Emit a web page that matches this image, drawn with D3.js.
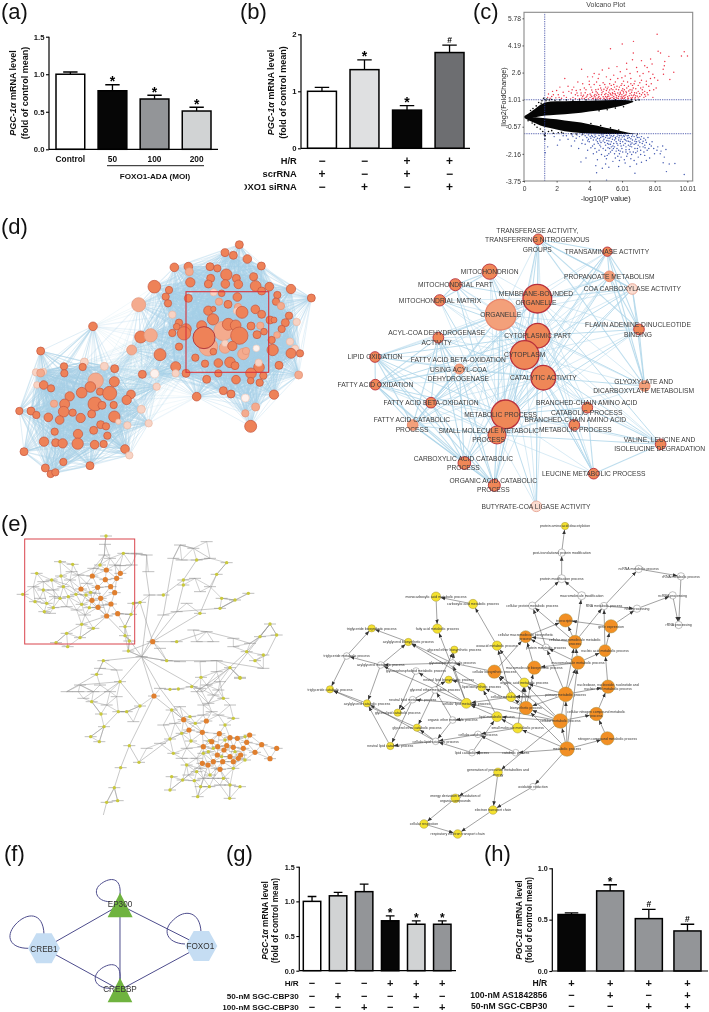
<!DOCTYPE html>
<html><head><meta charset="utf-8">
<script src="https://cdnjs.cloudflare.com/ajax/libs/d3/7.8.5/d3.min.js"></script>
<style>
html,body{margin:0;padding:0;background:#fff}
svg{position:absolute;left:0;top:0;display:block;filter:blur(0.3px)}
text{font-family:"Liberation Sans",Arial,sans-serif}
</style></head><body>
<svg id="fig" width="709" height="1012" viewBox="0 0 709 1012"></svg>
<script>
// ---------- Bar panels ----------
const aCats=["Control","50","100","200"];
const aVals=[1.0,0.78,0.67,0.51];
const aErrs=[0.03,0.08,0.05,0.05];
const aMarks=["","*","*","*"];
const aTicks=[0,0.5,1,1.5];
const aColors=["#ffffff","#060606","#939598","#d1d3d4"];

const bCats=["b1","b2","b3","b4"];
const bVals=[1.0,1.38,0.67,1.68];
const bErrs=[0.07,0.17,0.08,0.13];
const bMarks=["","*","*","#"];
const bTicks=[0,1,2];
const bColors=["#ffffff","#dfe0e1","#060606","#6d6e71"];
const bRows=["H/R","scrRNA","FOXO1 siRNA"];
const bSigns=[["−","−","+","+"],["+","−","+","−"],["−","+","−","+"]];

const gCats=["g1","g2","g3","g4","g5","g6"];
const gVals=[1.0,1.08,1.14,0.72,0.67,0.67];
const gErrs=[0.07,0.05,0.11,0.07,0.05,0.05];
const gMarks=["","","","*","*","*"];
const gTicks=[0,0.5,1,1.5];
const gColors=["#ffffff","#d1d3d4","#939598","#060606","#d1d3d4","#939598"];
const gRows=["H/R","50-nM SGC-CBP30","100-nM SGC-CBP30"];
const gSigns=[["−","−","−","+","+","+"],["−","+","−","−","+","−"],["−","−","+","−","−","+"]];

const hCats=["h1","h2","h3","h4"];
const hVals=[0.55,0.78,0.51,0.39];
const hErrs=[0.015,0.06,0.09,0.065];
const hMarks=["","*","#","#"];
const hTicks=[0,0.5,1];
const hColors=["#060606","#939598","#939598","#939598"];
const hRows=["H/R","100-nM AS1842856","50-nM SGC-CBP30"];
const hSigns=[["+","+","+","+"],["−","+","−","+"],["−","−","+","+"]];

// ---------- Volcano ----------
const cXTicks=[0,2,4,6.01,8.01,10.01];
const cYTicks=[-3.75,-2.16,-0.57,1.01,2.6,4.19,5.78];
const wingX   =[0,0.3,0.7,1,1.3,1.6,2,2.5,3,3.5,4,4.5,5,5.5,6,6.4,6.7];
const upTop   =[0.05,0.22,0.5,0.72,0.85,0.9,0.92,0.92,0.93,0.94,0.95,0.97,0.98,1.0,1.0,0.98,0.92];
const upBot   =[-0.05,-0.1,-0.02,0.04,0.08,0.1,0.13,0.16,0.2,0.25,0.32,0.38,0.46,0.55,0.66,0.78,0.88];
const lowX    =[0,0.3,0.7,1,1.3,1.6,2,2.5,3,3.5,4,4.5,5,5.5,6,6.4,6.8];
const lowTop  =[-0.05,-0.05,-0.02,-0.05,-0.08,-0.1,-0.14,-0.2,-0.27,-0.33,-0.42,-0.52,-0.63,-0.72,-0.83,-0.92,-0.98];
const lowBot  =[-0.05,-0.2,-0.36,-0.5,-0.58,-0.65,-0.74,-0.84,-0.9,-0.94,-0.97,-0.98,-1.0,-1.0,-1.0,-1.0,-1.0];
const blackFringe=[[0.9,0.85],[1.1,0.95],[1.2,1.1],[1.28,1.02],[1.4,1.05],[1.55,1.0],[1.7,1.02],[1.9,0.98],[2.2,1.0],[2.6,1.0],[3,0.98],[3.4,1.0],[3.8,1.0],[4.4,1.0],[5,1.0],[5.6,1.0],[6.2,0.98],[6.6,1.0],[0.8,-0.6],[1.0,-0.7],[1.15,-0.85],[1.3,-0.95],[1.25,-1.05],[1.5,-0.85],[1.8,-0.95],[2.1,-0.92],[2.4,-0.95],[2.9,-0.98],[3.2,-1.0],[3.6,-1.0],[0.55,0.5],[0.75,0.65],[0.5,-0.35],[0.65,-0.45],[1.3,-1.1],[1.28,-1.3],[1.05,0.8],[1.35,0.95],[0.4,0.38],[0.25,-0.22],[6.85,0.98],[6.95,-1.0],[7.05,1.0],[1.7,-0.8],[2.3,-0.9],[6.1,0.6],[5.6,0.52],[5.1,0.42],[4.6,0.36],[4.1,-0.38],[4.7,-0.5],[5.3,-0.64],[5.8,-0.76]];
const redPts=[[8.16,4.85],[6.71,4.43],[6.02,4.28],[5.3,4.0],[6.7,3.75],[8.22,3.85],[8.37,3.75],[9.82,3.82],[10.02,3.57],[9.65,3.57],[8.88,3.55],[8.63,3.25],[3.53,2.8],[2.5,2.25],[7.76,3.4],[7.2,3.3],[6.65,3.35],[6.29,3.15],[9.18,2.62],[8.94,2.2],[8.53,2.8],[8.6,3.0],[7.85,3.1],[7.4,3.0],[6.9,2.9],[6.3,2.8],[5.9,2.65],[5.7,2.95],[5.2,2.85],[4.8,2.75],[4.3,2.55],[4.2,2.35],[4.6,2.5],[5.05,2.35],[5.5,2.45],[6.0,2.3],[6.5,2.55],[7.1,2.4],[7.65,2.65],[7.9,2.5],[8.2,2.15],[8.0,2.3],[7.5,2.1],[7.2,2.15],[6.8,2.1],[6.35,2.05],[6.0,1.95],[5.6,2.05],[5.25,1.95],[4.85,2.0],[4.45,2.05],[4.0,2.1],[3.6,1.95],[3.3,2.05],[3.05,1.75],[2.7,1.8],[2.2,1.75],[2.0,1.55],[1.75,1.5],[1.5,1.35],[1.7,1.2],[2.1,1.3],[2.4,1.45],[2.9,1.4],[3.2,1.55],[3.5,1.4],[3.8,1.6],[4.1,1.75],[4.4,1.6],[4.7,1.7],[5.0,1.75],[5.35,1.65],[5.7,1.8],[6.05,1.65],[6.4,1.8],[6.7,1.7],[7.0,1.85],[7.3,1.75],[7.65,1.8],[7.8,1.95],[8.1,1.7],[7.4,1.5],[7.0,1.5],[6.6,1.45],[6.25,1.5],[5.9,1.45],[5.55,1.5],[5.2,1.45],[4.85,1.5],[4.5,1.4],[4.2,1.45],[3.9,1.3],[3.6,1.2],[3.3,1.25],[3.0,1.15],[2.6,1.15],[2.3,1.1],[1.95,1.12],[1.6,1.1],[4.05,1.15],[4.3,1.25],[4.55,1.15],[4.75,1.3],[5.0,1.2],[5.15,1.3],[5.4,1.15],[5.6,1.3],[5.8,1.2],[6.0,1.3],[6.2,1.15],[6.45,1.25],[6.65,1.15],[6.85,1.25],[7.1,1.2],[7.35,1.15],[7.6,1.3],[7.9,1.15],[4.2,1.07],[4.4,1.1],[4.65,1.07],[4.9,1.1],[5.1,1.06],[5.3,1.1],[5.5,1.07],[5.7,1.1],[5.95,1.07],[6.15,1.1],[6.35,1.06],[6.6,1.08],[6.8,1.06],[3.4,1.07],[3.7,1.08],[3.95,1.06],[3.15,1.07],[2.85,1.06],[5.45,1.38],[5.05,1.55],[4.65,1.85],[5.8,1.6],[6.15,1.85],[6.55,2.25],[7.3,2.55],[6.1,2.1],[5.3,2.2],[3.9,2.35],[4.0,1.9],[7.75,2.25],[8.55,2.5],[6.75,1.95],[5.55,1.75],[4.95,1.9],[4.3,1.9],[6.95,2.65],[7.55,2.9],
 [3.55,1.1],[3.8,1.15],[4.1,1.28],[4.25,1.1],[4.45,1.28],[4.6,1.2],[4.7,1.1],[4.85,1.18],[4.95,1.32],[5.05,1.12],[5.2,1.22],[5.28,1.38],[5.4,1.28],[5.5,1.2],[5.65,1.15],[5.75,1.4],[5.85,1.3],[5.95,1.18],[6.1,1.4],[6.1,1.22],[6.25,1.3],[6.35,1.18],[6.5,1.38],[6.55,1.12],[6.75,1.3],[6.9,1.4],[7.0,1.12],[7.2,1.3],[7.45,1.22],[7.25,1.6],[6.85,1.65],[6.5,1.6],[6.15,1.6],[5.85,1.75],[5.45,1.6],[5.1,1.65],[4.75,1.58],[4.35,1.32],[4.15,1.58],[3.75,1.42],[3.45,1.6],[3.15,1.3],[2.75,1.5],[2.45,1.25],[2.15,1.15],[1.8,1.3],[1.45,1.15],[6.55,1.95],[7.15,1.7],[7.5,1.9],[6.2,2.4],[5.75,2.25],[4.55,2.25],[3.7,1.7],[2.95,1.6],[5.35,1.85],[4.15,1.2],[5.25,1.08],[6.05,1.08],[6.7,1.25],[7.7,1.55],[7.95,1.6],[3.25,1.4],[3.65,1.28],
 [4.35,1.18],[4.52,1.05],[4.58,1.32],[4.78,1.42],[4.92,1.05],[5.02,1.38],[5.12,1.18],[5.22,1.05],[5.32,1.3],[5.42,1.42],[5.52,1.1],[5.58,1.38],[5.68,1.24],[5.78,1.08],[5.9,1.36],[6.02,1.16],[6.08,1.5],[6.18,1.26],[6.28,1.42],[6.4,1.1],[6.42,1.52],[6.58,1.28],[6.62,1.58],[6.78,1.42],[6.82,1.14],[6.95,1.22],[7.08,1.38],[7.28,1.42],[7.4,1.32],[7.55,1.42],[6.3,1.7],[6.0,1.55],[5.65,1.62],[5.25,1.58],[4.9,1.62],[4.55,1.62],[4.05,1.35],[4.42,1.48],[3.85,1.22],[3.5,1.28],[5.95,1.85],[6.65,1.85],[7.1,2.0],[5.15,1.75],[5.5,1.9]];
const bluePts=[[4.45,-3.27],[5.06,-3.7],[9.82,-3.37],[8.73,-3.2],[6.8,-3.3],[3.49,-2.63],[9.25,-2.72],[8.53,-2.68],[8.9,-2.75],[8.6,-2.35],[8.35,-2.15],[8.15,-1.95],[8.5,-1.7],[8.2,-1.75],[8.0,-2.15],[7.7,-2.4],[7.4,-2.25],[7.2,-2.65],[6.9,-2.75],[6.5,-2.9],[6.2,-2.7],[5.8,-2.9],[5.2,-2.95],[5.0,-2.75],[4.8,-3.0],[4.4,-2.85],[3.8,-2.4],[2.05,-1.65],[2.9,-1.7],[2.2,-1.35],[1.45,-1.75],[1.3,-2.1],[1.85,-1.15],[2.4,-1.1],[2.7,-1.3],[3.1,-1.4],[3.4,-1.15],[3.0,-1.15],[3.6,-1.35],[3.85,-1.2],[3.75,-1.6],[4.0,-1.45],[4.2,-1.15],[4.1,-1.8],[4.3,-1.6],[4.5,-1.25],[4.45,-2.05],[4.65,-1.4],[4.7,-1.75],[4.8,-1.15],[4.95,-1.5],[5.0,-1.95],[5.15,-1.25],[5.1,-2.25],[5.3,-1.6],[5.35,-1.1],[5.4,-1.95],[5.55,-1.35],[5.6,-2.4],[5.7,-1.15],[5.75,-1.65],[5.85,-2.15],[5.95,-1.3],[6.0,-1.85],[6.1,-1.1],[6.2,-1.55],[6.3,-2.3],[6.35,-1.25],[6.45,-1.9],[6.5,-1.45],[6.6,-1.15],[6.7,-2.05],[6.75,-1.6],[6.85,-1.3],[6.95,-1.85],[7.0,-2.35],[7.1,-1.5],[7.2,-1.15],[7.3,-1.75],[7.45,-1.35],[7.55,-1.95],[7.7,-1.6],[7.85,-1.45],[3.95,-1.05],[4.15,-1.08],[4.35,-1.05],[4.6,-1.08],[4.85,-1.05],[5.05,-1.08],[5.25,-1.05],[5.5,-1.08],[5.75,-1.05],[5.95,-1.08],[6.2,-1.05],[6.4,-1.08],[6.65,-1.05],[6.9,-1.1],[7.05,-1.2],[3.25,-1.05],[3.55,-1.05],[4.55,-1.55],[4.9,-1.3],[5.2,-1.4],[5.45,-1.7],[5.65,-1.45],[5.9,-1.55],[6.15,-1.3],[6.4,-1.65],[6.6,-1.75],[6.85,-1.55],[7.15,-1.95],[7.4,-1.65],[7.6,-1.2],[5.3,-2.05],[5.55,-2.15],[5.95,-2.35],[6.25,-2.05],[6.55,-2.45],[6.85,-2.1],[7.15,-2.2],[7.5,-2.55],[4.75,-2.2],[4.25,-2.15],[3.9,-1.95],[3.35,-1.85],[5.85,-2.55],[6.75,-2.55],[5.45,-2.6],[7.95,-1.85],[8.4,-2.0],[8.7,-1.9],[4.5,-2.5],[5.05,-2.45],
 [3.75,-1.1],[3.95,-1.3],[4.05,-1.15],[4.25,-1.35],[4.4,-1.15],[4.5,-1.45],[4.7,-1.2],[4.75,-1.05],[4.85,-1.4],[5.0,-1.2],[5.0,-1.65],[5.1,-1.1],[5.2,-1.6],[5.25,-1.25],[5.35,-1.45],[5.45,-1.15],[5.5,-1.55],[5.6,-1.2],[5.7,-1.85],[5.8,-1.35],[5.85,-1.1],[5.95,-1.7],[6.05,-1.45],[6.15,-1.15],[6.25,-1.75],[6.3,-1.4],[6.45,-1.2],[6.55,-1.6],[6.65,-1.35],[6.75,-1.15],[6.9,-1.45],[7.0,-1.65],[7.15,-1.3],[7.25,-1.55],[7.35,-1.25],[7.5,-1.5],[7.65,-1.85],[7.8,-1.7],[6.05,-2.05],[5.65,-2.0],[5.25,-1.85],[4.85,-1.85],[4.6,-1.95],[4.2,-1.7],[3.55,-1.55],[3.2,-1.25],[2.95,-1.05],[2.6,-1.1],[6.35,-2.15],[6.6,-2.2],[6.95,-2.0],[7.35,-2.05],[5.75,-2.3],[5.2,-2.15],[4.95,-2.3],[6.15,-2.5],
 [4.1,-1.25],[4.3,-1.2],[4.42,-1.35],[4.62,-1.28],[4.72,-1.5],[4.88,-1.15],[5.08,-1.38],[5.12,-1.55],[5.3,-1.18],[5.42,-1.3],[5.48,-1.85],[5.62,-1.28],[5.7,-1.55],[5.82,-1.22],[5.9,-1.42],[6.02,-1.18],[6.1,-1.65],[6.22,-1.35],[6.32,-1.1],[6.4,-1.42],[6.55,-1.28],[6.62,-1.52],[6.8,-1.42],[6.95,-1.2],[7.05,-1.4],[7.3,-1.42],[7.42,-1.8],[5.55,-1.75],[5.8,-1.95],[5.35,-1.75],[4.65,-1.65],[4.35,-1.85],[3.9,-1.4],[6.5,-1.72],[6.8,-1.85],[7.1,-1.75],[6.25,-1.92],[5.15,-1.8],[5.9,-2.0],[6.5,-2.05]];

// ---------- Network (d), left: [x, y, radius, tone] in crop units; tone 0=orange 1=peach 2=pale 3=near-white ----------
const dNodesA=[[718,119,12,0],[675,143,12,0],[700,151,12,0],[742,162,13,0],[784,183,12,0],[523,187,13,0],[565,185,13,0],[568,200,12,1],[630,185,12,0],[652,190,11,0],[679,209,17,0],[632,220,12,0],[709,220,12,0],[761,215,12,0],[571,232,14,0],[625,237,12,0],[676,237,13,0],[715,238,13,0],[767,243,16,0],[785,258,12,0],[808,245,13,0],[873,252,14,0],[934,279,12,0],[463,245,19,0],[507,255,11,0],[497,275,11,0],[504,295,11,0],[565,280,12,0],[641,262,11,2],[665,265,10,0],[712,276,13,0],[657,290,11,1],[684,298,12,0],[832,270,11,0],[828,290,11,0],[843,303,11,1],[416,299,21,1],[517,329,11,2],[714,306,11,1],[710,318,10,2],[726,322,18,0],[625,317,14,0],[640,312,8,0],[766,313,13,0],[785,328,12,0],[867,332,11,0],[890,351,11,2],[856,353,12,0],[810,345,12,0],[822,345,9,0],[845,372,11,0],[781,362,11,1],[753,363,12,0],[537,353,11,0],[530,365,10,0],[558,372,16,0],[552,385,20,0],[517,384,11,0],[625,425,28,1],[605,362,15,0],[639,343,17,0],[670,378,29,1],[685,358,18,0],[707,361,16,0],[718,392,26,0],[675,428,17,1],[675,415,10,2],[697,423,14,0],[771,389,12,0],[792,380,10,0],[831,390,10,1],[815,405,11,0],[818,435,17,0],[870,410,11,2],[885,431,11,2],[873,445,15,0],[900,445,11,0],[537,425,11,0],[586,458,11,0],[615,476,11,0],[640,440,10,0],[655,474,13,0],[690,472,16,0],[705,482,12,0],[730,447,17,1],[738,438,11,1],[769,430,10,3],[777,487,16,0],[776,473,11,2],[753,505,16,0],[790,512,11,0],[837,481,12,0],[896,510,12,1],[527,485,15,0],[527,505,11,2],[558,505,12,0],[480,449,18,0],[427,508,12,0],[464,506,13,3],[395,435,15,1],[422,396,18,0],[452,391,20,1],[620,523,12,0],[655,505,11,0],[708,524,13,0],[752,527,10,0],[779,533,11,0],[670,557,12,0],[693,567,12,0],[590,575,13,0],[822,569,14,0],[736,579,12,3],[767,606,12,1],[736,625,11,1],[752,664,18,0],[612,398,33,0]];
const dNodesB=[[279,364,13,0],[122,438,12,0],[253,471,12,2],[313,484,12,2],[248,486,11,0],[192,484,11,0],[193,505,11,0],[344,491,12,0],[108,502,11,2],[130,500,10,2],[122,504,12,1],[111,540,10,2],[287,527,23,1],[343,530,15,0],[131,540,13,0],[153,550,11,0],[470,545,11,2],[271,546,16,0],[245,563,16,0],[300,560,11,0],[329,565,21,0],[393,568,13,0],[380,585,14,0],[209,574,14,0],[194,597,15,0],[162,596,11,1],[285,597,21,0],[306,601,12,0],[341,600,11,0],[58,618,11,0],[93,618,12,0],[109,630,11,0],[191,620,16,0],[218,623,11,0],[275,627,12,0],[343,635,17,0],[424,613,12,2],[145,637,13,0],[179,645,13,0],[242,639,14,0],[355,650,8,2],[382,661,11,2],[446,655,11,2],[302,659,12,0],[318,664,11,0],[281,676,12,0],[164,680,11,0],[234,687,14,0],[322,692,11,0],[132,710,14,0],[167,713,12,0],[188,715,14,0],[233,716,17,0],[284,719,13,0],[311,717,11,0],[72,740,12,0],[375,732,13,0],[388,751,11,2],[190,771,11,0],[270,782,12,0],[136,789,12,0],[152,807,11,0],[166,802,11,0]];

// ---------- Network (d), right ----------
const dTerms=[
 [["TRANSFERASE ACTIVITY,","TRANSFERRING NITROGENOUS","GROUPS"],625,103,16,0,622,77],
 [["TRANSAMINASE ACTIVITY"],832,140,14,0,831,139],
 [["MITOCHONDRION"],479,200,23,0,479,199],
 [["MITOCHONDRIAL PART"],376,239,18,0,376,238],
 [["MITOCHONDRIAL MATRIX"],329,286,17,0,330,286],
 [["PROPANOATE METABOLISM"],838,214,16,1,838,214],
 [["COA CARBOXYLASE ACTIVITY"],907,252,16,2,907,251],
 [["MEMBRANE-BOUNDED","ORGANELLE"],622,281,43,0,618,265],
 [["ORGANELLE"],512,329,46,1,512,328],
 [["CYTOPLASMIC PART"],623,392,37,0,623,392],
 [["FLAVIN ADENINE DINUCLEOTIDE","BINDING"],927,373,16,0,924,360],
 [["ACYL-COA DEHYDROGENASE","ACTIVITY"],325,398,16,0,320,384],
 [["CYTOPLASM"],584,450,43,0,584,449],
 [["LIPID OXIDATION"],135,456,16,0,135,456],
 [["FATTY ACID BETA-OXIDATION","USING ACYL-COA","DEHYDROGENASE"],388,492,15,1,385,465],
 [["CATALYTIC ACTIVITY"],640,518,37,0,640,518],
 [["FATTY ACID OXIDATION"],136,539,16,0,136,539],
 [["GLYOXYLATE AND","DICARBOXYLATE METABOLISM"],944,543,16,1,941,529],
 [["FATTY ACID BETA-OXIDATION"],303,593,16,0,303,593],
 [["BRANCHED-CHAIN AMINO ACID","CATABOLIC PROCESS"],772,608,16,0,770,594],
 [["METABOLIC PROCESS"],527,628,43,0,512,628],
 [["FATTY ACID CATABOLIC","PROCESS"],248,660,16,1,246,645],
 [["BRANCHED-CHAIN AMINO ACID","METABOLIC PROCESS"],733,660,16,0,736,645],
 [["SMALL MOLECULE METABOLIC","PROCESS"],501,690,27,0,476,676],
 [["VALINE, LEUCINE AND","ISOLEUCINE DEGRADATION"],992,718,16,0,989,704],
 [["CARBOXYLIC ACID CATABOLIC","PROCESS"],403,774,19,0,400,760],
 [["LEUCINE METABOLIC PROCESS"],791,806,16,0,791,805],
 [["ORGANIC ACID CATABOLIC","PROCESS"],493,841,18,0,490,826],
 [["BUTYRATE-COA LIGASE ACTIVITY"],619,904,16,2,618,904]
];
const dHubs=[7,8,9,12,15,20,23];
const dCliques=[[13,16,18,21,14,11,25,27],[19,22,24,26],[2,3,4],[0,1,5,6,10,17]];

// ---------- Network (e), left overview (crop units) ----------
const eOrange=[[319,165],[361,175],[277,183],[350,190],[316,194],[293,217],[332,215],[243,222],[344,233],[302,250],[276,256],[333,267],[294,277],[353,296],[320,303],[458,380],[462,543],[551,614],[567,645],[619,618],[607,652],[610,695],[653,695],[672,705],[700,697],[712,670],[690,668],[658,656],[749,660],[740,682],[730,700],[722,720],[715,730],[700,740],[690,725],[668,740],[652,720],[640,740],[624,750],[607,745],[660,763],[680,692],[785,689],[765,712],[830,700],[810,731],[635,680]];
const eYellow=[[318,63],[370,115],[300,150],[180,140],[218,148],[110,175],[155,195],[183,183],[68,238],[130,225],[190,215],[228,238],[258,240],[272,232],[205,245],[245,268],[268,278],[133,290],[105,260],[180,250],[140,265],[160,278],[245,328],[200,355],[168,383],[240,368],[280,340],[203,395],[375,335],[393,298],[400,265],[420,262],[375,362],[388,378],[385,408],[680,143],[650,178],[745,235],[705,255],[665,250],[660,280],[600,295],[590,135],[550,195],[550,210],[490,240],[530,380],[500,437],[810,327],[830,360],[780,365],[765,437],[740,410],[690,458],[720,487],[790,420],[310,437],[290,478],[360,500],[275,560],[303,597],[355,590],[380,590],[420,573],[312,635],[272,665],[298,680],[388,692],[362,758],[343,818],[320,862],[353,857],[417,742],[515,585],[510,523],[535,522],[575,515],[603,487],[720,490],[670,550],[700,610],[675,630],[570,605],[586,625],[545,655],[510,672],[520,715],[573,678],[628,677],[560,750],[515,785],[548,795],[583,797],[510,825],[602,815],[628,815],[593,845],[689,850],[690,810],[720,815],[590,770],[630,780],[700,760],[735,735],[670,790],[610,715],[640,700],[665,725],[705,710],[675,675],[735,665],[625,710]];
const eBlank=[[315,88],[313,120],[410,115],[440,120],[445,170],[360,152],[395,150],[540,90],[580,100],[620,80],[630,130],[520,130],[448,240],[490,300],[530,290],[580,345],[620,350],[700,370],[750,385],[600,440],[650,437],[790,460],[200,530],[240,510],[350,545],[280,530],[480,520],[650,470],[480,685],[440,700],[425,425],[400,620],[490,630],[625,565],[590,530],[640,540],[610,570],[660,500],[565,780],[600,760],[650,760],
 [130,200],[160,225],[210,195],[235,180],[260,205],[120,250],[165,245],[200,275],[230,285],[285,235],[310,270],[255,300],[215,170],[150,295],[100,215],[345,150],[330,130],[280,160],[545,135],[600,230],[585,190],[560,265],[630,215],[600,520],[620,510],[655,525],[635,590],[655,600],[610,600],[690,570],[540,575],[525,625],[560,700],[590,730],[545,730],[640,790],[660,810],[610,790],[300,510],[330,530],[250,550],[320,570],[235,530],[300,460],[350,465],[540,440],[700,395],[640,380],[590,380],[480,400]];
const eSpokes=[[[425,425],[385,370],[320,303],[265,255],[205,210],[155,195]],[[425,425],[458,380],[530,380],[620,350],[700,370],[750,385],[780,365],[810,327],[830,360],[800,420],[765,437]],[[425,425],[448,240],[438,170],[440,120],[370,115]],[[425,425],[490,300],[520,130],[540,90],[580,100],[630,130],[590,135],[550,195],[490,240]],[[458,380],[600,295],[650,178],[680,143]],[[458,380],[530,290],[550,210]],[[530,290],[660,280],[745,235]],[[660,280],[705,255],[665,250]],[[425,425],[360,500],[275,560],[303,597]],[[425,425],[310,437],[290,478],[200,530]],[[360,500],[240,510],[280,530]],[[360,500],[420,573],[380,590],[355,590],[312,635],[272,665]],[[312,635],[298,680]],[[425,425],[462,543],[388,692],[362,758],[343,818],[320,862],[310,900]],[[343,818],[353,857]],[[388,692],[417,742]],[[425,425],[610,530],[740,410],[810,327]],[[425,425],[480,520],[551,614],[607,652]],[[425,425],[500,437],[650,437],[790,460]],[[462,543],[551,614]],[[567,645],[510,672],[416,742]],[[318,63],[315,88],[313,120],[300,150],[277,183]],[[320,303],[245,328],[200,355],[168,383]],[[320,303],[280,340],[240,368]],[[353,296],[393,298],[375,335],[375,362],[388,378],[385,408],[425,425]],[[400,265],[420,262],[458,380]],[[385,408],[458,380]],[[425,425],[500,437],[458,380]],[[590,530],[690,458],[720,487]],[[625,565],[810,327]],[[660,763],[690,810],[689,850]],[[607,745],[548,795],[510,825]],[[624,750],[593,845]]];

// ---------- Network (e), right: [id, label lines, x, y, radius, type] ----------
const eNodes=[
 ["pd",["protein amino acid deacetylation"],795,33,11,"y"],
 ["ptm",["post-translational protein modification"],785,113,11,"w"],
 ["pmp",["protein modification process"],785,191,12,"w"],
 ["mm",["macromolecule modification"],845,242,12,"w"],
 ["cpm",["cellular protein metabolic process"],697,272,11,"w"],
 ["ncm",["ncRNA metabolic process"],1016,162,11,"w"],
 ["rrm",["rRNA metabolic process"],1143,184,11,"w"],
 ["ncp",["ncRNA processing"],1118,241,11,"w"],
 ["rrp",["rRNA processing"],1136,330,11,"w"],
 ["rna",["RNA metabolic process"],912,273,11,"w"],
 ["rnp",["RNA processing"],1011,281,11,"w"],
 ["tr",["transcription"],797,316,20,"o"],
 ["ge",["gene expression"],933,334,20,"o"],
 ["mca",["monocarboxylic acid metabolic process"],408,245,14,"y"],
 ["cam",["carboxylic acid metabolic process"],519,267,14,"y"],
 ["fam",["fatty acid metabolic process"],412,341,14,"y"],
 ["tgb",["triglyceride biosynthetic process"],215,340,11,"y"],
 ["tgm",["triglyceride metabolic process"],140,423,10,"w"],
 ["tgc",["triglyceride catabolic process"],90,523,11,"y"],
 ["agb",["acylglycerol biosynthetic process"],325,381,11,"y"],
 ["agm",["acylglycerol metabolic process"],242,450,10,"w"],
 ["agc",["acylglycerol catabolic process"],201,565,11,"y"],
 ["geb",["glycerol ether biosynthetic process"],463,404,11,"y"],
 ["oxo",["oxoacid metabolic process"],591,392,14,"y"],
 ["cmb",["cellular macromolecule biosynthetic","process"],677,365,18,"o"],
 ["cmm",["cellular macromolecule metabolic","process"],825,381,20,"o"],
 ["pm",["protein metabolic process"],738,397,10,"w"],
 ["nam",["nucleic acid metabolic process"],915,407,18,"o"],
 ["mam",["macromolecule metabolic process"],834,443,20,"o"],
 ["mab",["macromolecule biosynthetic process"],703,458,20,"o"],
 ["cbp",["cellular biosynthetic process"],583,470,20,"o"],
 ["glm",["glycerolipid metabolic process"],457,444,10,"w"],
 ["phl",["glycerophospholipid metabolic process"],348,468,10,"w"],
 ["nlb",["neutral lipid biosynthetic process"],446,494,11,"y"],
 ["gem",["glycerol ether metabolic process"],405,525,10,"w"],
 ["nlm",["neutral lipid metabolic process"],338,554,10,"w"],
 ["glc",["glycerolipid catabolic process"],293,593,11,"y"],
 ["oam",["organic acid metabolic process"],673,503,14,"y"],
 ["lbp",["lipid biosynthetic process"],545,516,12,"y"],
 ["pri",["primary metabolic process"],797,538,22,"o"],
 ["nuc",["nucleobase, nucleoside, nucleotide and","nucleic acid metabolic process"],924,515,20,"o"],
 ["clm",["cellular metabolic process"],633,546,14,"y"],
 ["cll",["cellular lipid metabolic process"],499,565,15,"y"],
 ["bio",["biosynthetic process"],678,579,20,"o"],
 ["cem",["cellular metabolic process"],781,618,22,"o"],
 ["cnc",["cellular nitrogen compound metabolic","process"],889,597,20,"o"],
 ["lip",["lipid metabolic process"],591,605,15,"y"],
 ["smm",["small molecule metabolic process"],653,639,15,"y"],
 ["oem",["organic ether metabolic process"],458,615,10,"w"],
 ["gec",["glycerol ether catabolic process"],351,638,11,"y"],
 ["ccp",["cellular catabolic process"],534,658,10,"w"],
 ["clc",["cellular lipid catabolic process"],407,679,10,"w"],
 ["nlc",["neutral lipid catabolic process"],271,693,11,"y"],
 ["lcp",["lipid catabolic process"],516,713,10,"w"],
 ["cat",["catabolic process"],647,713,10,"w"],
 ["met",["metabolic process"],801,702,22,"o"],
 ["nit",["nitrogen compound metabolic process"],922,670,20,"o"],
 ["gen",["generation of precursor metabolites and","energy"],594,772,13,"y"],
 ["oxr",["oxidation reduction"],699,815,10,"w"],
 ["end",["energy derivation by oxidation of","organic compounds"],466,850,13,"y"],
 ["etc",["electron transport chain"],579,885,13,"y"],
 ["res",["cellular respiration"],372,927,13,"y"],
 ["rec",["respiratory electron transport chain"],473,957,13,"y"]
];
const eEdges=[["ptm","pd"],["pmp","ptm"],["mm","pmp"],["cpm","pmp"],["pm","cpm"],["cmm","mm"],["cmm","cpm"],["cmm","tr"],["cmm","cmb"],["cmm","rna"],["mab","cmb"],["cbp","cmb"],["cmb","tr"],["ge","tr"],["ge","rnp"],["nam","ge"],["nam","rna"],["rna","ncm"],["rna","rnp"],["rnp","ncp"],["ncp","rrp"],["ncm","rrm"],["rrm","rrp"],["nuc","nam"],["cnc","nuc"],["nit","cnc"],["mam","cmm"],["mam","nam"],["mam","mab"],["mam","pm"],["pm","cmb"],["pri","mam"],["pri","nuc"],["pri","pm"],["pri","oam"],["pri","bio"],["pri","clm"],["met","cem"],["met","pri"],["met","nit"],["met","bio"],["met","smm"],["met","cat"],["met","oxr"],["met","mam"],["cem","bio"],["cem","cnc"],["cem","cll"],["cem","lip"],["cem","oam"],["cem","cbp"],["cem","cmm"],["cem","gen"],["bio","cbp"],["bio","mab"],["bio","lbp"],["bio","clm"],["bio","oam"],["cbp","glm"],["oam","oxo"],["oxo","cam"],["cam","mca"],["mca","fam"],["cll","fam"],["smm","lip"],["smm","oam"],["lip","cll"],["lip","lbp"],["lip","oem"],["cll","agm"],["cll","nlm"],["cll","glm"],["cll","phl"],["lbp","agb"],["lbp","nlb"],["clm","cll"],["clm","oxo"],["tgm","tgb"],["tgm","tgc"],["agm","tgm"],["agm","agb"],["agm","agc"],["glm","agb"],["glm","geb"],["gem","geb"],["gem","gec"],["oem","gem"],["oem","clc"],["nlm","nlb"],["nlm","nlc"],["nlm","glc"],["phl","glc"],["glm","agm"],["ccp","clc"],["clc","nlc"],["clc","gec"],["clc","agc"],["gec","tgc"],["cat","ccp"],["cat","lcp"],["lcp","clc"],["lcp","lip"],["smm","ccp"],["agb","tgb"],["agc","tgc"],["nlc","agc"],["gen","end"],["gen","etc"],["end","res"],["res","rec"],["etc","rec"],["oxr","etc"]];

// ---------- Network (f) ----------
const fTriangles=[["EP300",360,195],["CREBBP",360,450]];
const fHexes=[["CREB1",132,325],["FOXO1",604,318]];
const fEdges=[["EP300","CREB1"],["EP300","FOXO1"],["EP300","CREBBP"],["CREB1","CREBBP"],["FOXO1","CREBBP"]];

// ========== drawing ==========
const svg=d3.select("#fig");
const B="#000";

[["(a)",1,18.5],["(b)",240,18.5],["(c)",473,18.5],["(d)",1,234],["(e)",1,531],["(f)",4,861],["(g)",226,861],["(h)",484,861]]
 .forEach(([t,x,y])=>svg.append("text").attr("x",x).attr("y",y).attr("font-size",22).attr("fill","#111").text(t));

function yTitle(x,cy,fs){
  const t=svg.append("text").attr("transform",`translate(${x},${cy}) rotate(-90)`).attr("text-anchor","middle")
     .attr("font-size",fs).attr("font-weight","bold").attr("fill","#111");
  const t1=t.append("tspan").attr("x",0).attr("dy",-fs*0.65);
  t1.append("tspan").attr("font-style","italic").text("PGC-1α");
  t1.append("tspan").text(" mRNA level");
  t.append("tspan").attr("x",0).attr("dy",fs*1.28).text("(fold of control mean)");
}
function barPanel(o){
  const y=d3.scaleLinear().domain(o.yDomain).range(o.yRange);
  const x=d3.scaleBand().domain(o.cats).range(o.xRange).paddingInner(o.padding).paddingOuter(0);
  const g=svg.append("g");
  g.selectAll("rect.bar").data(o.vals).join("rect").attr("class","bar")
    .attr("x",(d,i)=>x(o.cats[i])).attr("width",x.bandwidth())
    .attr("y",d=>y(d)).attr("height",d=>y(0)-y(d))
    .attr("fill",(d,i)=>o.colors[i]).attr("stroke",B).attr("stroke-width",1.5);
  const cap=x.bandwidth()*0.25;
  o.vals.forEach((v,i)=>{
    const c=x(o.cats[i])+x.bandwidth()/2, top=y(v+o.errs[i]);
    g.append("path").attr("d",`M${c},${y(v)}V${top}M${c-cap},${top}H${c+cap}`).attr("stroke",B).attr("stroke-width",1.3).attr("fill","none");
    const m=o.marks[i];
    if(m=="*") g.append("text").attr("x",c).attr("y",top+(o.starDy)).attr("text-anchor","middle").attr("font-size",o.starSize).attr("font-weight","bold").attr("fill","#000").text(m);
    if(m=="#") g.append("text").attr("x",c).attr("y",top-2).attr("text-anchor","middle").attr("font-size",8.5).attr("font-weight","bold").attr("fill","#000").text(m);
  });
  const ax=g.append("g").attr("transform",`translate(${o.axisX},0)`).call(d3.axisLeft(y).tickValues(o.ticks).tickSize(3).tickPadding(1.5).tickFormat(o.fmt));
  ax.select(".domain").attr("stroke",B).attr("stroke-width",1.2).attr("d",`M0,${y(o.yDomain[1])}V${y(0)}`);
  ax.selectAll("line").attr("stroke",B).attr("stroke-width",1.1);
  ax.selectAll("text").attr("font-size",o.tickSize).attr("font-weight","bold").attr("fill","#111").attr("font-family","'Liberation Sans',Arial,sans-serif");
  g.append("line").attr("x1",o.axisX).attr("x2",o.axisEnd).attr("y1",y(0)).attr("y2",y(0)).attr("stroke",B).attr("stroke-width",1.2);
  yTitle(o.titleX,o.titleY,o.titleSize);
  if(o.rows) o.rows.forEach((r,j)=>{
    let t=g.append("text").attr("x",o.rowRight).attr("y",o.rowY[j]).attr("dy","0.35em").attr("text-anchor","end").attr("font-size",o.rowSize).attr("font-weight","bold").attr("fill","#111").text(r);
    if(o.clipId) t.attr("clip-path",`url(#${o.clipId})`);
    o.signs[j].forEach((s,i)=>g.append("text").attr("x",x(o.cats[i])+x.bandwidth()/2).attr("y",o.rowY[j]).attr("dy","0.35em").attr("text-anchor","middle").attr("font-size",o.signSize).attr("font-weight","bold").attr("fill","#111").text(s));
  });
  return {x,y,g};
}
const defs=svg.append("defs");
defs.append("clipPath").attr("id","clipB").append("rect").attr("x",244.5).attr("y",150).attr("width",70).attr("height",60);
defs.append("clipPath").attr("id","clipG").append("rect").attr("x",223.2).attr("y",975).attr("width",90).attr("height",37);
defs.append("marker").attr("id","arr").attr("viewBox","0 0 6 6").attr("refX",6).attr("refY",3).attr("markerWidth",4.5).attr("markerHeight",4.5).attr("markerUnits","userSpaceOnUse").attr("orient","auto").append("path").attr("d","M0,0.6L6,3L0,5.4Z").attr("fill","#333");

// (a)
const pa=barPanel({cats:aCats,vals:aVals,errs:aErrs,marks:aMarks,colors:aColors,ticks:aTicks,yDomain:[0,1.5],yRange:[149.3,36.7],xRange:[56,211],padding:0.317,axisX:49,axisEnd:218,titleX:22,titleY:93,titleSize:9,tickSize:7.7,starSize:14,starDy:1.5,fmt:d3.format(".1f")});
aCats.forEach((c,i)=>pa.g.append("text").attr("x",pa.x(c)+pa.x.bandwidth()/2).attr("y",158.7).attr("dy","0.35em").attr("text-anchor","middle").attr("font-size",8.3).attr("font-weight","bold").attr("fill","#111").text(c));
svg.append("line").attr("x1",107).attr("x2",204).attr("y1",165.7).attr("y2",165.7).attr("stroke","#000").attr("stroke-width",0.9);
svg.append("text").attr("x",155).attr("y",176.3).attr("dy","0.35em").attr("text-anchor","middle").attr("font-size",8.1).attr("font-weight","bold").attr("fill","#111").text("FOXO1-ADA (MOI)");

// (b)
barPanel({cats:bCats,vals:bVals,errs:bErrs,marks:bMarks,colors:bColors,ticks:bTicks,yDomain:[0,2],yRange:[148.3,34.3],xRange:[307.5,464],padding:0.32,axisX:301,axisEnd:470,titleX:280,titleY:92.5,titleSize:9,tickSize:7.7,starSize:14,starDy:1.5,fmt:d3.format("d"),rows:bRows,signs:bSigns,signSize:12,rowRight:296.7,rowY:[161,174,187],rowSize:9.3,clipId:"clipB"});

// (g)
barPanel({cats:gCats,vals:gVals,errs:gErrs,marks:gMarks,colors:gColors,ticks:gTicks,yDomain:[0,1.5],yRange:[970.7,866.7],xRange:[303.3,451],padding:0.33,axisX:299.3,axisEnd:456,titleX:273,titleY:920.5,titleSize:8.3,tickSize:7.2,starSize:12,starDy:1,fmt:d3.format(".1f"),rows:gRows,signs:gSigns,signSize:11,rowRight:298.7,rowY:[983,995.7,1006.7],rowSize:8.1,clipId:"clipG"});

// (h)
barPanel({cats:hCats,vals:hVals,errs:hErrs,marks:hMarks,colors:hColors,ticks:hTicks,yDomain:[0,1],yRange:[971,868.3],xRange:[558,701],padding:0.30,axisX:552.3,axisEnd:708,titleX:527,titleY:920,titleSize:8.4,tickSize:7.2,starSize:12,starDy:1,fmt:d3.format(".1f"),rows:hRows,signs:hSigns,signSize:11,rowRight:547.3,rowY:[983,994.7,1006],rowSize:8.6});

// (c) volcano
{
  const x=d3.scaleLinear().domain([0,10.34]).range([524,692.7]);
  const y=d3.scaleLinear().domain([-3.75,5.78]).range([181,18.3]);
  const g=svg.append("g");
  g.selectAll("circle.r").data(redPts).join("circle").attr("class","r").attr("cx",d=>x(d[0])).attr("cy",d=>y(d[1])).attr("r",0.72).attr("fill","#ec3044");
  g.selectAll("circle.b").data(bluePts).join("circle").attr("class","b").attr("cx",d=>x(d[0])).attr("cy",d=>y(d[1])).attr("r",0.72).attr("fill","#4158b0");
  g.append("path").attr("d",d3.area().x(d=>x(d[0])).y0(d=>y(d[1])).y1(d=>y(d[2]))(wingX.map((v,i)=>[v,upTop[i],upBot[i]]))).attr("fill","#050505");
  g.append("path").attr("d",d3.area().x(d=>x(d[0])).y0(d=>y(d[1])).y1(d=>y(d[2]))(lowX.map((v,i)=>[v,lowTop[i],lowBot[i]]))).attr("fill","#050505");
  g.selectAll("circle.k").data(blackFringe).join("circle").attr("class","k").attr("cx",d=>x(d[0])).attr("cy",d=>y(d[1])).attr("r",0.8).attr("fill","#050505");
  [[1.27,1.27,-3.75,6.12]].forEach(a=>g.append("line").attr("x1",x(a[0])).attr("x2",x(a[1])).attr("y1",y(a[2])).attr("y2",y(a[3])).attr("stroke","#2b3a9c").attr("stroke-width",0.75).attr("stroke-dasharray","1.3 1"));
  [1.01,-0.98].forEach(v=>g.append("line").attr("x1",524).attr("x2",692.7).attr("y1",y(v)).attr("y2",y(v)).attr("stroke","#2b3a9c").attr("stroke-width",0.75).attr("stroke-dasharray","1.3 1"));
  g.append("rect").attr("x",524).attr("y",12.3).attr("width",168.7).attr("height",168.7).attr("fill","none").attr("stroke","#8a8a8a").attr("stroke-width",1.1);
  const ay=g.append("g").attr("transform","translate(524,0)").call(d3.axisLeft(y).tickValues(cYTicks).tickFormat(d=>String(d)).tickSize(1.5).tickPadding(1.5));
  const ax=g.append("g").attr("transform","translate(0,181)").call(d3.axisBottom(x).tickValues(cXTicks).tickFormat(d=>String(d)).tickSize(1.5).tickPadding(4));
  [ax,ay].forEach(a=>{a.select(".domain").remove();a.selectAll("line").attr("stroke","#555");a.selectAll("text").attr("font-size",6.7).attr("fill","#333").attr("font-family","'Liberation Sans',Arial,sans-serif");});
  g.append("text").attr("x",605.7).attr("y",6.8).attr("text-anchor","middle").attr("font-size",7).attr("fill","#444").text("Volcano Plot");
  g.append("text").attr("x",605.7).attr("y",200.5).attr("text-anchor","middle").attr("font-size",7.4).attr("fill","#222").text("-log10(P value)");
  g.append("text").attr("transform","translate(506,97) rotate(-90)").attr("text-anchor","middle").attr("font-size",7.2).attr("fill","#222").text("|log2(FoldChange)");
}

// (d) left
{
  const x=d3.scaleLinear().domain([0,330]).range([0,110]);
  const y=d3.scaleLinear().domain([0,900]).range([205,505]);
  const tone=["#ee8258","#f4ab8e","#f8d3c4","#fdf2ee"], ring=["#c5563f","#e39479","#eab7a4","#eecdc0"];
  const g=svg.append("g");
  const pairs=[];
  const addPairs=(A,Bb,th,op)=>A.forEach((a,i)=>Bb.forEach((b,j)=>{ if(A===Bb&&j<=i)return; const dd=Math.hypot(a[0]-b[0],a[1]-b[1]); if(dd<th) pairs.push([a,b,op,(i+j)%5==0?1.2:0.7]); }));
  addPairs(dNodesA,dNodesA,250,0.42);
  addPairs(dNodesB,dNodesB,230,0.5);
  addPairs(dNodesA.filter(d=>d[0]<600),dNodesB.filter(d=>d[0]>230),245,0.22);
  g.selectAll("line").data(pairs).join("line").attr("x1",d=>x(d[0][0])).attr("y1",d=>y(d[0][1])).attr("x2",d=>x(d[1][0])).attr("y2",d=>y(d[1][1])).attr("stroke","#a5cfe6").attr("stroke-opacity",d=>d[2]).attr("stroke-width",d=>d[3]);
  g.selectAll("circle").data([...dNodesB,...dNodesA]).join("circle").attr("cx",d=>x(d[0])).attr("cy",d=>y(d[1])).attr("r",d=>x(d[2]))
    .attr("fill",d=>tone[d[3]]).attr("stroke",d=>d[2]>30?"#b23a3f":ring[d[3]]).attr("stroke-width",d=>d[2]>30?1:0.7);
  svg.append("rect").attr("x",186).attr("y",291.7).attr("width",82.7).attr("height",80.6).attr("fill","none").attr("stroke","#d8343c").attr("stroke-width",1.1);
}

// (d) right
{
  const x=d3.scaleLinear().domain([0,379]).range([330,456.33]);
  const y=d3.scaleLinear().domain([0,930]).range([205,515]);
  const tone=["#ef8757","#f3a07a","#fbdcd0"], ring=["#b8303c","#e8866c","#e8a594"];
  const g=svg.append("g");
  const edges=[];
  dHubs.forEach((h,hi)=>dTerms.forEach((t,i)=>{ if(i!==h&&!(dHubs.includes(i)&&dHubs.indexOf(i)<hi)) edges.push([h,i,(i+hi)%3==0?1.0:0.6]); }));
  dCliques.forEach(c=>c.forEach((a,i)=>c.slice(i+1).forEach(b=>edges.push([a,b,1.1]))));
  g.selectAll("line").data(edges).join("line").attr("x1",d=>x(dTerms[d[0]][1])).attr("y1",d=>y(dTerms[d[0]][2])).attr("x2",d=>x(dTerms[d[1]][1])).attr("y2",d=>y(dTerms[d[1]][2])).attr("stroke","#add5e9").attr("stroke-opacity",0.8).attr("stroke-width",d=>d[2]);
  g.selectAll("circle").data(dTerms).join("circle").attr("cx",d=>x(d[1])).attr("cy",d=>y(d[2])).attr("r",d=>(x(d[3])-x(0)))
    .attr("fill",d=>tone[d[4]]).attr("stroke",d=>ring[d[4]]).attr("stroke-width",d=>d[3]>30?1.3:0.9);
  dTerms.forEach(d=>d[0].forEach((line,i)=>g.append("text").attr("x",x(d[5])).attr("y",y(d[6]+i*28)).attr("dy","0.35em").attr("text-anchor","middle").attr("font-size",6.7).attr("fill","#3a3a3a").text(line)));
}

// (e) left
{
  const x=d3.scaleLinear().domain([0,300]).range([0,100]);
  const y=d3.scaleLinear().domain([0,900]).range([515,815]);
  const all=[...eOrange,...eYellow,...eBlank];
  const g=svg.append("g");
  const del=d3.Delaunay.from(all);
  const seen=new Set(), links=[];
  const {halfedges,triangles}=del;
  for(let e=0;e<halfedges.length;e++){
    const a=triangles[e],b=triangles[e%3==2?e-2:e+1];
    const k=Math.min(a,b)+"-"+Math.max(a,b);
    if(seen.has(k))continue; seen.add(k);
    const dd=Math.hypot(all[a][0]-all[b][0],all[a][1]-all[b][1]);
    if(dd<52) links.push([all[a],all[b]]);
  }
  const line=d3.line().x(d=>x(d[0])).y(d=>y(d[1]));
  g.selectAll("path.l").data(links).join("path").attr("class","l").attr("d",line).attr("stroke","#909090").attr("stroke-width",0.42).attr("fill","none");
  g.selectAll("path.s").data(eSpokes).join("path").attr("class","s").attr("d",line).attr("stroke","#9a9a9a").attr("stroke-width",0.55).attr("fill","none");
  g.selectAll("line.t").data(all).join("line").attr("class","t").attr("x1",d=>x(d[0])-6).attr("x2",d=>x(d[0])+6).attr("y1",d=>y(d[1])).attr("y2",d=>y(d[1])).attr("stroke","#8a8a8a").attr("stroke-width",0.55);
  g.selectAll("circle.y").data(eYellow).join("circle").attr("class","y").attr("cx",d=>x(d[0])).attr("cy",d=>y(d[1])).attr("r",1.7).attr("fill","#c9c83c");
  g.selectAll("circle.o").data(eOrange).join("circle").attr("class","o").attr("cx",d=>x(d[0])).attr("cy",d=>y(d[1])).attr("r",2.6).attr("fill","#e07f2e");
  svg.append("rect").attr("x",24.7).attr("y",539).attr("width",110).attr("height",105).attr("fill","none").attr("stroke","#d9444c").attr("stroke-width",1);
}

// (e) right
{
  const x=d3.scaleLinear().domain([0,409]).range([300,436.33]);
  const y=d3.scaleLinear().domain([0,960]).range([515,835]);
  const byId=new Map(eNodes.map(n=>[n[0],n]));
  const g=svg.append("g");
  g.selectAll("line").data(eEdges).join("line").each(function(e){
    const a=byId.get(e[0]),b=byId.get(e[1]);
    const ax=x(a[2]),ay=y(a[3]),bx=x(b[2]),by=y(b[3]);
    const len=Math.hypot(bx-ax,by-ay),ra=a[4]/3,rb=b[4]/3;
    d3.select(this).attr("x1",ax+(bx-ax)*ra/len).attr("y1",ay+(by-ay)*ra/len).attr("x2",bx-(bx-ax)*rb/len).attr("y2",by-(by-ay)*rb/len);
  }).attr("stroke","#555").attr("stroke-width",0.55).attr("marker-end","url(#arr)");
  const fill={y:"#f4e12f",o:"#f28f24",w:"#ffffff"};
  g.selectAll("circle").data(eNodes).join("circle").attr("cx",d=>x(d[2])).attr("cy",d=>y(d[3])).attr("r",d=>d[4]/3).attr("fill",d=>fill[d[5]]).attr("stroke",d=>d[5]=="w"?"#777":"#9b8a3a").attr("stroke-width",0.45);
  eNodes.forEach(d=>d[1].forEach((l,i)=>g.append("text").attr("x",x(d[2])).attr("y",y(d[3])+(i-(d[1].length-1)/2)*4.4).attr("dy","0.35em").attr("text-anchor","middle").attr("font-size",3.5).attr("fill","#333").text(l)));
}

// (f)
{
  const x=d3.scaleLinear().domain([0,220]).range([0,73.33]);
  const y=d3.scaleLinear().domain([0,172]).range([840,897.33]);
  const pos=new Map([...fTriangles,...fHexes].map(n=>[n[0],n]));
  const g=svg.append("g");
  const fc="#4d4c8c";
  const P=(a,b)=>`${x(a)},${y(b)}`;
  fEdges.forEach(e=>{const a=pos.get(e[0]),b=pos.get(e[1]);
    g.append("line").attr("x1",x(a[1])).attr("y1",y(a[2])).attr("x2",x(b[1])).attr("y2",y(b[2])).attr("stroke",fc).attr("stroke-width",1);});
  const loops=[`M${P(330,185)}C${P(290,185)} ${P(275,150)} ${P(305,130)}C${P(330,112)} ${P(365,110)} ${P(360,165)}`,
    `M${P(85,325)}C${P(30,325)} ${P(15,290)} ${P(45,255)}C${P(80,215)} ${P(130,215)} ${P(132,283)}`,
    `M${P(555,312)}C${P(500,310)} ${P(485,270)} ${P(520,240)}C${P(555,205)} ${P(600,215)} ${P(603,275)}`,
    `M${P(330,445)}C${P(285,445)} ${P(270,410)} ${P(305,385)}C${P(330,368)} ${P(365,365)} ${P(360,420)}`];
  loops.forEach(d=>g.append("path").attr("d",d).attr("fill","none").attr("stroke",fc).attr("stroke-width",1));
  const tri=[[323,232,360,158,398,232],[323,487,360,413,397,487]];
  tri.forEach(t=>g.append("path").attr("d",`M${P(t[0],t[1])}L${P(t[2],t[3])}L${P(t[4],t[5])}Z`).attr("fill","#6fb33f"));
  fHexes.forEach(h=>{const cx=h[1],cy=h[2],w=48,s=23,hh=45;
    g.append("path").attr("d",`M${P(cx-w,cy)}L${P(cx-s,cy-hh)}L${P(cx+s,cy-hh)}L${P(cx+w,cy)}L${P(cx+s,cy+hh)}L${P(cx-s,cy+hh)}Z`).attr("fill","#c5ddf3");});
  [["EP300",360,193],["CREBBP",360,448],["CREB1",132,326],["FOXO1",601,318]].forEach(l=>g.append("text").attr("x",x(l[1])).attr("y",y(l[2])).attr("dy","0.35em").attr("text-anchor","middle").attr("font-size",8.2).attr("fill","#333").text(l[0]));
}
</script>
</body></html>
